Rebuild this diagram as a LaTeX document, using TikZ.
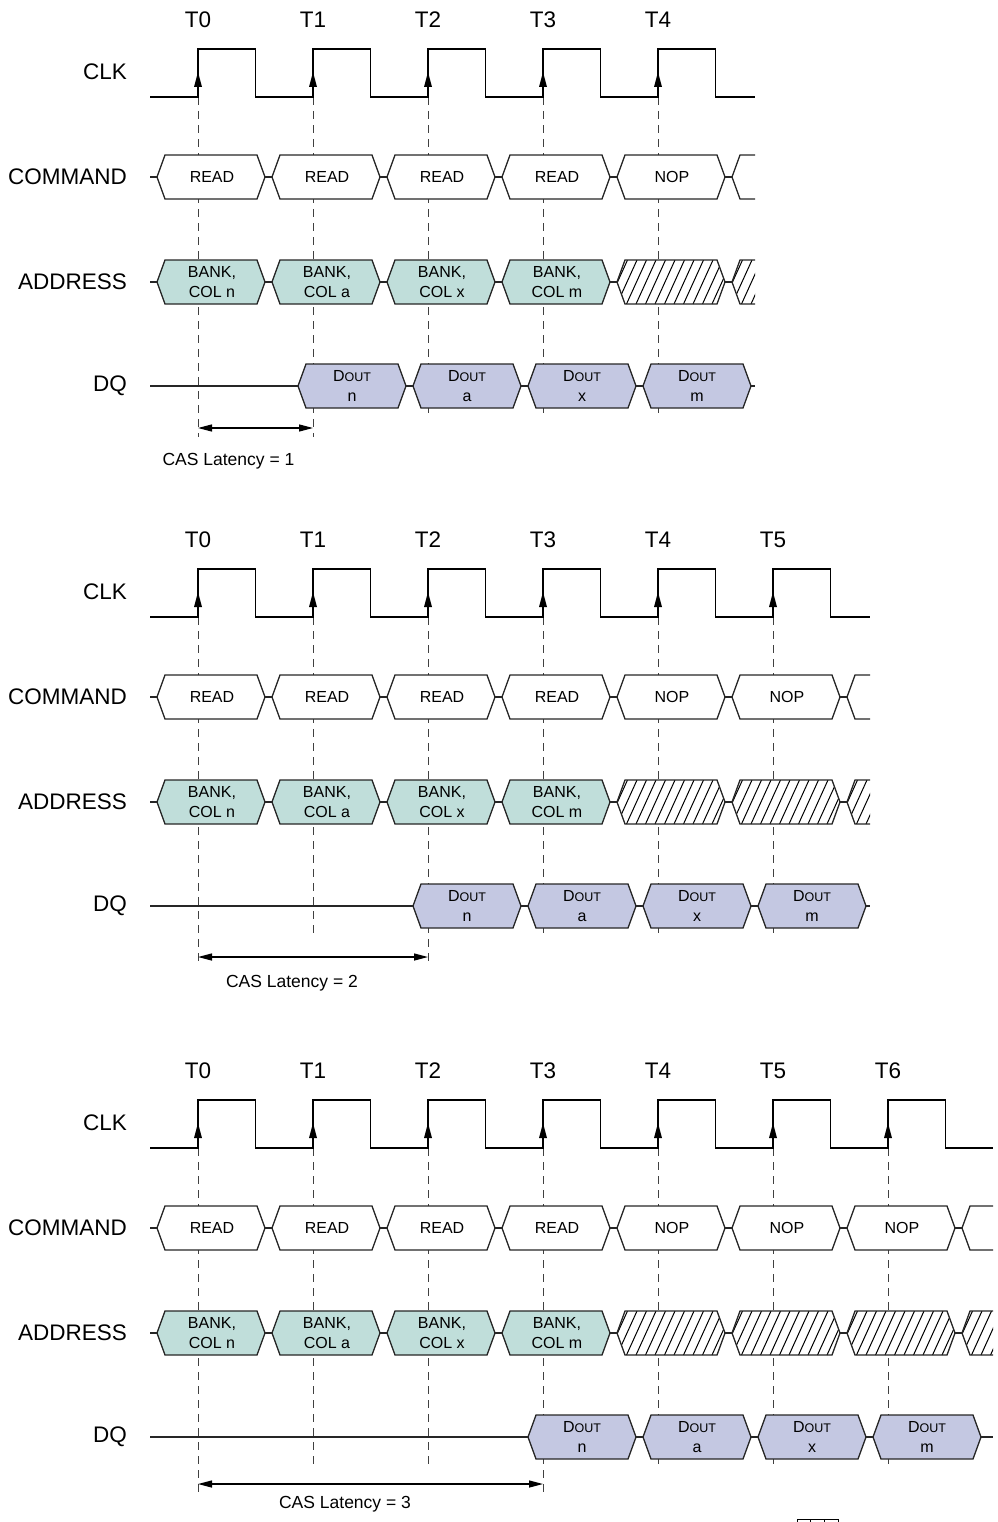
\documentclass[tikz,border=0pt]{standalone}
\usepackage{fontspec}
\setmainfont{Liberation Sans}
\usetikzlibrary{arrows.meta}
\definecolor{addrfill}{RGB}{192,222,218}
\definecolor{doutfill}{RGB}{196,200,226}
\tikzset{
  hexline/.style={line width=1.3bp, draw=black!85, line join=miter},
  clkline/.style={line width=1.8bp, line join=miter},
  guide/.style={line width=1bp, dash pattern=on 8bp off 6bp, draw=black!75},
  biglabel/.style={font=\fontsize{22.5bp}{26bp}\selectfont, anchor=east, inner sep=0pt},
  tlabel/.style={font=\fontsize{22.5bp}{26bp}\selectfont, inner sep=0pt},
  celltext/.style={font=\fontsize{16bp}{20bp}\selectfont, align=center, inner sep=0pt},
  castext/.style={font=\fontsize{17.5bp}{20bp}\selectfont, inner sep=0pt},
  latarrow/.style={line width=1.3bp, {Triangle[length=14bp,width=7bp]}-{Triangle[length=14bp,width=7bp]}},
}
\newcommand{\hexshape}[4]{\path[#1] (#2,#4) -- (#2+8,#4-22) -- (#3-8,#4-22) -- (#3,#4) -- (#3-8,#4+22) -- (#2+8,#4+22) -- cycle;}
\newcommand{\hatchhex}[3]{%
  \begin{scope}
    \clip (#1,#3) -- (#1+8,#3-22) -- (#2-8,#3-22) -- (#2,#3) -- (#2-8,#3+22) -- (#1+8,#3+22) -- cycle;
    \fill[white] (#1,#3-23) rectangle (#2,#3+23);
    \foreach \hh in {-3,...,13} \draw[line width=1bp] ({#1+\hh*9.5},#3+22) -- ({#1+\hh*9.5+20},#3-22);
  \end{scope}
  \hexshape{hexline}{#1}{#2}{#3}}
% #1 prefix, #2 y offset, #3 clocks, #4 latency, #5 x end, #6 arrow y, #7 text x, #8 text y
\newcommand{\timingpanel}[8]{%
\begin{scope}[shift={(0,#2)}]
  \pgfmathtruncatemacro{\nlast}{#3-1}
  % guides, T labels
  \foreach \i in {0,...,\nlast}{
    \pgfmathsetmacro{\tx}{198+115*\i}
    \ifnum\i=0 \def\gb{#6+9}\else\ifnum\i=#4 \def\gb{#6+9}\else\def\gb{415}\fi\fi
    \draw[guide] (\tx,97) -- (\tx,\gb);
    \node[tlabel] (#1T\i) at (\tx,20) {T\i};
  }
  % row labels
  \node[biglabel] (#1clk) at (127,72) {CLK};
  \node[biglabel] (#1cmd) at (127,177) {COMMAND};
  \node[biglabel] (#1addr) at (127,282) {ADDRESS};
  \node[biglabel] (#1dq) at (127,386) {DQ};
  % base lines
  \draw[hexline] (150,177) -- (#5,177);
  \draw[hexline] (150,282) -- (#5,282);
  \draw[hexline] (150,386) -- (#5,386);
  % command row
  \foreach \i in {0,...,\nlast}{
    \pgfmathsetmacro{\tx}{198+115*\i}
    \hexshape{hexline,fill=white}{\tx-41}{\tx+67}{177}
    \ifnum\i<4 \def\cmdtxt{READ}\else\def\cmdtxt{NOP}\fi
    \node[celltext] (#1c\i) at (\tx+14,177) {\cmdtxt};
  }
  % address row
  \foreach \i/\l in {0/n,1/a,2/x,3/m}{
    \pgfmathsetmacro{\tx}{198+115*\i}
    \hexshape{hexline,fill=addrfill}{\tx-41}{\tx+67}{282}
    \node[celltext] (#1a\i) at (\tx+14,282) {BANK,\\COL \l};
  }
  \ifnum#3>4
  \foreach \i in {4,...,\nlast}{
    \pgfmathsetmacro{\tx}{198+115*\i}
    \hatchhex{\tx-41}{\tx+67}{282}
  }
  \fi
  % partial cells at the right edge
  \begin{scope}
    \clip (140,0) rectangle (#5,480);
    \pgfmathsetmacro{\tx}{198+115*#3}
    \hexshape{hexline,fill=white}{\tx-41}{\tx+67}{177}
    \hatchhex{\tx-41}{\tx+67}{282}
  \end{scope}
  % DQ row
  \foreach \j/\l in {0/n,1/a,2/x,3/m}{
    \pgfmathsetmacro{\tx}{198+115*(#4+\j)}
    \hexshape{hexline,fill=doutfill}{\tx-15}{\tx+93}{386}
    \node[celltext] (#1d\j) at (\tx+39,386) {D{\fontsize{12.5bp}{20bp}\selectfont OUT}\\\l};
  }
  % clock
  \draw[clkline] (150,97) \foreach \i in {0,...,\nlast}{ -- ({198+115*\i},97) -- ({198+115*\i},49) -- ({255.5+115*\i},49) -- ({255.5+115*\i},97)} -- (#5,97);
  \foreach \i in {0,...,\nlast}{
    \pgfmathsetmacro{\tx}{198+115*\i}
    \fill (\tx,72) -- (\tx-4,87) -- (\tx+4,87) -- cycle;
  }
  % latency
  \coordinate (#1la) at (198,#6);
  \coordinate (#1lb) at ({198+115*#4},#6);
  \draw[latarrow] (#1la) -- (#1lb);
  \node[castext] (#1cas) at (#7,#8) {CAS Latency = #4};
\end{scope}}
\begin{document}
\begin{tikzpicture}[x=1bp,y=-1bp]
  \useasboundingbox (0,0) rectangle (997,1522);
  \timingpanel{p1}{0}{5}{1}{755}{428}{228.5}{461}
  \timingpanel{p2}{520}{6}{2}{870}{437}{292}{463}
  \timingpanel{p3}{1051}{7}{3}{993}{433}{345}{453}
  \begin{scope}
    \clip (0,0) rectangle (997,1522);
    \draw[line width=1bp] (797,1519) rectangle (838,1535);
    \draw[line width=1bp] (810,1519) -- (810,1535) (824,1519) -- (824,1535);
  \end{scope}
\end{tikzpicture}
\end{document}
